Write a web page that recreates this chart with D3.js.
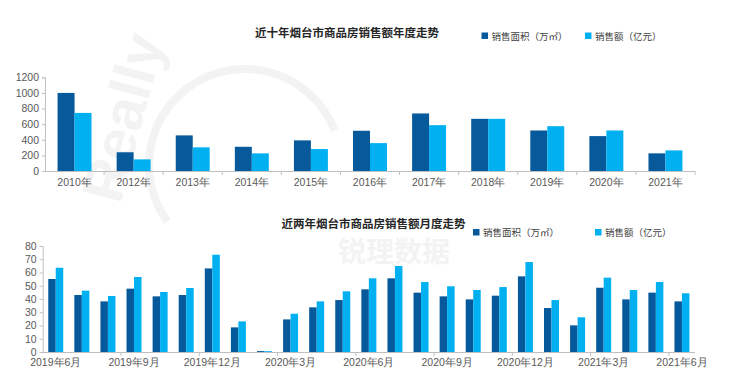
<!DOCTYPE html>
<html>
<head>
<meta charset="utf-8">
<script src="https://cdn.jsdelivr.net/npm/d3@7/dist/d3.min.js"></script>
<style>
  body { margin: 0; background: #fff; }
  svg { font-family: "Noto Sans CJK SC", "Noto Sans", sans-serif; }
  .axis text { fill: #595959; font-size: 10.5px; }
  .axis path, .axis line { stroke: #bfbfbf; }
</style>
</head>
<body>
<svg id="chart" width="740" height="385"></svg>
<script>
// 年度数据
const years = ["2010年", "2012年", "2013年", "2014年", "2015年", "2016年", "2017年", "2018年", "2019年", "2020年", "2021年"];
const yearArea = [1000, 240, 456, 310, 392, 515, 737, 668, 519, 447, 226];
const yearAmount = [744, 149, 303, 226, 281, 357, 587, 668, 574, 519, 264];
const yearTicks = [0, 200, 400, 600, 800, 1000, 1200];

// 月度数据
const months = ["2019年6月", "2019年7月", "2019年8月", "2019年9月", "2019年10月", "2019年11月", "2019年12月",
  "2020年1月", "2020年2月", "2020年3月", "2020年4月", "2020年5月", "2020年6月", "2020年7月", "2020年8月",
  "2020年9月", "2020年10月", "2020年11月", "2020年12月", "2021年1月", "2021年2月", "2021年3月",
  "2021年4月", "2021年5月", "2021年6月"];
const monthArea = [55.1, 43, 38.2, 47.8, 42, 43, 63.1, 18.6, 0.7, 24.6, 33.7, 39.2, 47.3, 55.6, 44.8,
  42, 39.7, 42.5, 57.1, 33.2, 20.1, 48.5, 39.7, 44.8, 38.2];
const monthAmount = [63.6, 46.3, 42.3, 56.6, 45.3, 48.3, 73.4, 23.1, 0.6, 28.9, 38.2, 45.8, 55.6, 64.9, 52.8,
  49.6, 46.8, 49, 67.9, 39.2, 26.2, 56.1, 46.8, 52.8, 44.3];
const monthTicks = [0, 10, 20, 30, 40, 50, 60, 70, 80];
const monthLabels = months.filter((d, i) => i % 3 === 0);

const seriesNames = ["销售面积（万㎡）", "销售额（亿元）"];
const colors = ["#065a9c", "#00b0f0"];

const svg = d3.select("#chart");

// 水印
const wm = svg.append("g").attr("fill", "#f3f3f3").attr("stroke", "none");
wm.append("path")
    .attr("d", d3.arc()({ innerRadius: 92, outerRadius: 100, startAngle: -2.2, endAngle: 1.2 }))
    .attr("transform", "translate(245,165)");
wm.append("text")
    .attr("transform", "translate(120,205) rotate(-75)")
    .attr("font-size", 58).attr("font-weight", "bold").attr("font-family", "Liberation Sans")
    .text("Really");
wm.append("text")
    .attr("x", 338).attr("y", 262)
    .attr("font-size", 28).attr("font-weight", "bold")
    .text("锐理数据");

function drawChart(cfg) {
    const g = svg.append("g");

    const x = d3.scaleBand().domain(cfg.cats).range([cfg.left, cfg.right]).padding(0);
    const xi = d3.scaleBand().domain([0, 1]).range([0, x.bandwidth()]).paddingOuter(cfg.outer);
    const y = d3.scaleLinear().domain([0, cfg.max]).range([cfg.bottom, cfg.top]);

    // 标题
    g.append("text")
        .attr("x", cfg.titleX).attr("y", cfg.titleY)
        .attr("font-size", 11.5).attr("font-weight", "bold").attr("fill", "#262626")
        .text(cfg.title);

    // 图例
    seriesNames.forEach((name, i) => {
        g.append("rect")
            .attr("x", cfg.legendX[i]).attr("y", cfg.legendY - 3.5)
            .attr("width", 6.5).attr("height", 6.5)
            .attr("fill", colors[i]);
        g.append("text")
            .attr("x", cfg.legendX[i] + 10).attr("y", cfg.legendY + 3.5)
            .attr("font-size", 9.5).attr("fill", "#404040")
            .text(name);
    });

    // 柱子
    [cfg.area, cfg.amount].forEach((vals, s) => {
        g.append("g").selectAll("rect")
            .data(vals)
            .join("rect")
            .attr("x", (d, i) => x(cfg.cats[i]) + xi(s))
            .attr("y", d => y(d))
            .attr("width", xi.bandwidth())
            .attr("height", d => y(0) - y(d))
            .attr("fill", colors[s]);
    });

    // Y轴
    g.append("g")
        .attr("class", "axis")
        .attr("transform", `translate(${cfg.left},0)`)
        .call(d3.axisLeft(y).tickValues(cfg.yTicks).tickFormat(d3.format("d")).tickSize(3).tickPadding(3));

    // X轴
    const xAxis = g.append("g")
        .attr("class", "axis")
        .attr("transform", `translate(0,${cfg.bottom})`)
        .call(d3.axisBottom(x).tickValues(cfg.labels).tickSize(0).tickPadding(cfg.labelPad).tickSizeOuter(0));
    xAxis.select(".domain").attr("d", `M${cfg.left},0.5H${cfg.right}`);

    // 分隔刻度
    const idx = d3.range(0, cfg.cats.length + 1).filter(i => i % cfg.tickEvery === 0 && i > 0);
    xAxis.selectAll(".sep")
        .data(idx)
        .join("line")
        .attr("class", "sep")
        .attr("x1", i => i < cfg.cats.length ? x(cfg.cats[i]) : cfg.right)
        .attr("x2", i => i < cfg.cats.length ? x(cfg.cats[i]) : cfg.right)
        .attr("y1", 0).attr("y2", 4);
}

drawChart({
    cats: years, area: yearArea, amount: yearAmount, yTicks: yearTicks, labels: years,
    max: 1200, left: 45, right: 695, top: 77.3, bottom: 171, outer: 0.74,
    title: "近十年烟台市商品房销售额年度走势", titleX: 255, titleY: 37,
    legendX: [481.5, 585], legendY: 36, tickEvery: 1, labelPad: 8
});

drawChart({
    cats: months, area: monthArea, amount: monthAmount, yTicks: monthTicks, labels: monthLabels,
    max: 80, left: 42.7, right: 695, top: 246, bottom: 352, outer: 0.74,
    title: "近两年烟台市商品房销售额月度走势", titleX: 281.5, titleY: 228,
    legendX: [473, 595], legendY: 232.5, tickEvery: 3, labelPad: 7
});
</script>
</body>
</html>
